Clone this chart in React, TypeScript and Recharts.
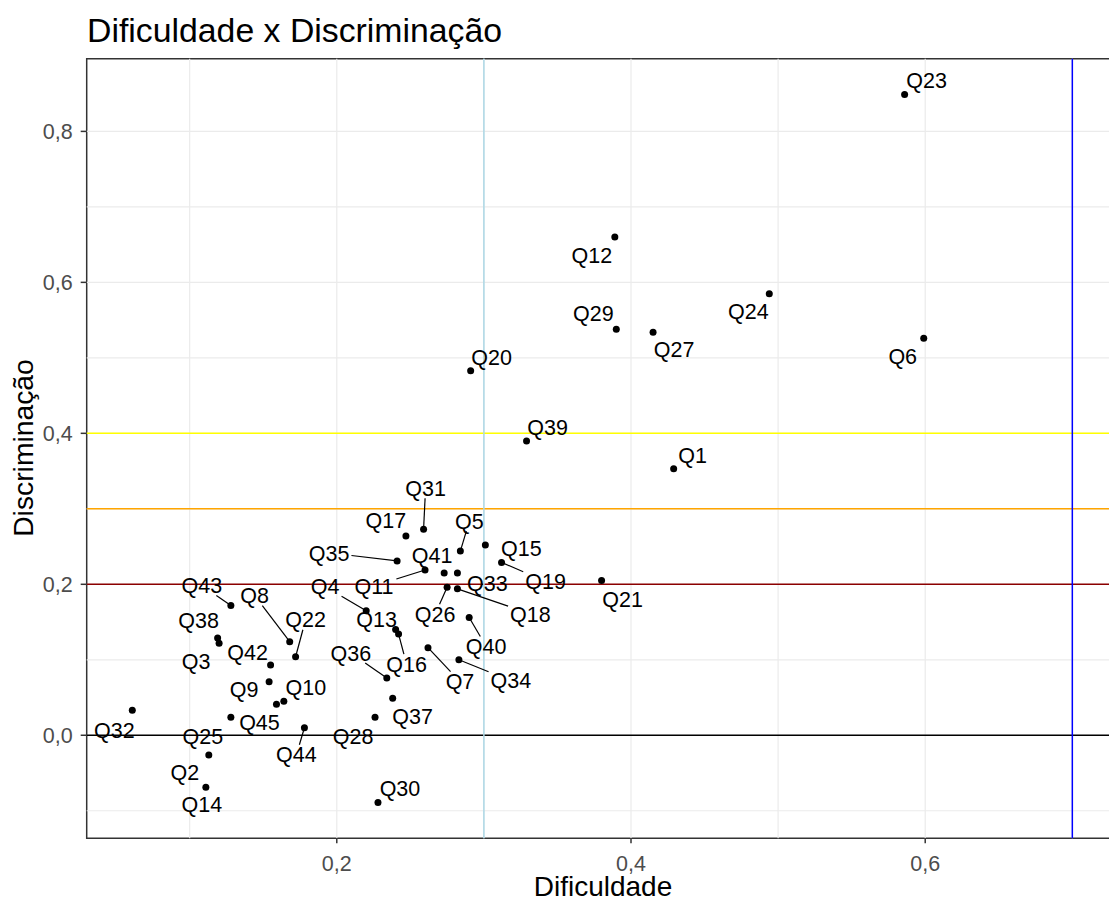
import React from "react";
import {
    ScatterChart,
    Scatter,
    XAxis,
    YAxis,
    ReferenceLine,
    ReferenceArea,
} from "recharts";

const questions = [
    "Q1", "Q2", "Q3", "Q4", "Q5", "Q6", "Q7", "Q8", "Q9", "Q10",
    "Q11", "Q12", "Q13", "Q14", "Q15", "Q16", "Q17", "Q18", "Q19", "Q20",
    "Q21", "Q22", "Q23", "Q24", "Q25", "Q26", "Q27", "Q28", "Q29", "Q30",
    "Q31", "Q32", "Q33", "Q34", "Q35", "Q36", "Q37", "Q38", "Q39", "Q40",
    "Q41", "Q42", "Q43", "Q44", "Q45",
];

const dificuldade = [
    0.429, 0.113, 0.120, 0.220, 0.284, 0.599, 0.262, 0.168, 0.154, 0.164,
    0.260, 0.389, 0.240, 0.111, 0.301, 0.242, 0.247, 0.282, 0.312, 0.291,
    0.380, 0.172, 0.586, 0.494, 0.128, 0.275, 0.415, 0.226, 0.390, 0.228,
    0.259, 0.061, 0.282, 0.283, 0.241, 0.234, 0.238, 0.119, 0.329, 0.290,
    0.273, 0.155, 0.128, 0.178, 0.159,
];

const discriminacao = [
    0.353, -0.026, 0.122, 0.165, 0.244, 0.526, 0.116, 0.124, 0.071, 0.045,
    0.219, 0.660, 0.140, -0.069, 0.252, 0.134, 0.264, 0.194, 0.229, 0.483,
    0.205, 0.104, 0.849, 0.585, 0.024, 0.196, 0.534, 0.024, 0.538, -0.089,
    0.273, 0.033, 0.215, 0.100, 0.231, 0.076, 0.049, 0.129, 0.390, 0.156,
    0.215, 0.093, 0.172, 0.010, 0.041,
];

const xTicks = [0.2, 0.4, 0.6];
const yTicks = [0, 0.2, 0.4, 0.6, 0.8];
const xMinor = [0.1, 0.3, 0.5, 0.7];
const yMinor = [-0.1, 0.1, 0.3, 0.5, 0.7];

// cut-off lines
const hCuts = [0, 0.2, 0.3, 0.4];
const hCutColors = ["#000000", "#8B0000", "#FFA500", "#FFFF00"];
const vCuts = [0.3, 0.7];
const vCutColors = ["#ADD8E6", "#0000FF"];

// repelled label placement, pixel offset from the point to the label centre
const labelOffsets: Record<string, [number, number]> = {
    Q1: [19, -14], Q2: [-24, 17], Q3: [-23, 18], Q4: [-41, -24], Q5: [9, -30],
    Q6: [-21, 18], Q7: [32, 34], Q8: [-35, -46], Q9: [-25, 8], Q10: [22, -14],
    Q11: [-51, 16], Q12: [-23, 18], Q13: [-19, -10], Q14: [-4, 17], Q15: [36, 3],
    Q16: [8, 30], Q17: [-20, -16], Q18: [73, 25], Q19: [44, 19], Q20: [21, -13],
    Q21: [21, 19], Q22: [10, -37], Q23: [22, -14], Q24: [-21, 18], Q25: [-28, 19],
    Q26: [-12, 27], Q27: [21, 17], Q28: [-22, 19], Q29: [-23, -16], Q30: [22, -14],
    Q31: [2, -41], Q32: [-18, 20], Q33: [30, 10], Q34: [52, 21], Q35: [-68, -8],
    Q36: [-36, -25], Q37: [20, 18], Q38: [-19, -18], Q39: [21, -14], Q40: [17, 29],
    Q41: [-12, -18], Q42: [-23, -13], Q43: [-29, -20], Q44: [-8, 27], Q45: [-17, 18],
};
const withSegment = new Set([
    "Q4", "Q5", "Q7", "Q8", "Q11", "Q16", "Q18", "Q19", "Q22", "Q26",
    "Q31", "Q34", "Q35", "Q36", "Q40", "Q43", "Q44",
]);

const data = questions.map((q, i) => ({
    q,
    x: dificuldade[i],
    y: discriminacao[i],
}));

const X_DOMAIN: [number, number] = [0.03, 0.732];
const Y_DOMAIN: [number, number] = [-0.1365, 0.8963];
const FONT = "'Liberation Sans', Arial, sans-serif";
const LABEL_SIZE = 21.5;

const fmt = (v: number) => v.toFixed(1).replace(".", ",");

const textWidth = (s: string) => LABEL_SIZE * (0.778 + 0.556 * (s.length - 1));

const Dot = (props: any) => {
    const { cx, cy } = props;
    if (cx == null || cy == null) return null;
    return <circle cx={cx} cy={cy} r={3.5} fill="#000" />;
};

const RepelLabel = (props: any) => {
    const { cx, cy, payload } = props;
    if (cx == null || cy == null) return null;
    const [dx, dy] = labelOffsets[payload.q] || [15, -12];
    const lx = cx + dx;
    const ly = cy + dy;
    let seg = null;
    if (withSegment.has(payload.q)) {
        const hw = textWidth(payload.q) / 2 + 2;
        const hh = 10;
        const vx = cx - lx;
        const vy = cy - ly;
        const t = Math.min(
            hw / Math.max(Math.abs(vx), 1e-6),
            hh / Math.max(Math.abs(vy), 1e-6)
        );
        seg = (
            <line
                x1={lx + vx * t}
                y1={ly + vy * t}
                x2={cx}
                y2={cy}
                stroke="#000"
                strokeWidth={1.2}
            />
        );
    }
    return (
        <g>
            {seg}
            <text
                x={lx}
                y={ly + 7.7}
                textAnchor="middle"
                fontSize={LABEL_SIZE}
                fontFamily={FONT}
                fill="#000"
            >
                {payload.q}
            </text>
        </g>
    );
};

const App: React.FC = () => {
    return (
        <div
            style={{
                position: "fixed",
                left: 0,
                top: 0,
                width: 1109,
                height: 903,
                overflow: "hidden",
                background: "#fff",
                fontFamily: FONT,
            }}
        >
            <ScatterChart
                width={1130}
                height={903}
                margin={{ top: 58.7, right: 10.6, bottom: 24.7, left: 0 }}
            >
                <XAxis
                    type="number"
                    dataKey="x"
                    domain={X_DOMAIN}
                    allowDataOverflow
                    ticks={xTicks}
                    interval={0}
                    tickFormatter={fmt}
                    axisLine={false}
                    tickLine={{ stroke: "#333333", strokeWidth: 1.5 }}
                    tickSize={5}
                    tickMargin={12}
                    tick={{ fill: "#4D4D4D", fontSize: 21.5 }}
                    height={40}
                />
                <YAxis
                    type="number"
                    dataKey="y"
                    domain={Y_DOMAIN}
                    allowDataOverflow
                    ticks={yTicks}
                    interval={0}
                    tickFormatter={fmt}
                    axisLine={false}
                    tickLine={{ stroke: "#333333", strokeWidth: 1.5 }}
                    tickSize={6}
                    tickMargin={8}
                    tick={{ fill: "#4D4D4D", fontSize: 21.5 }}
                    width={86.7}
                />
                {[...yTicks, ...yMinor].map((v) => (
                    <ReferenceLine key={"gy" + v} y={v} stroke="#EBEBEB" strokeWidth={1.2} />
                ))}
                {[...xTicks, ...xMinor].map((v) => (
                    <ReferenceLine key={"gx" + v} x={v} stroke="#EBEBEB" strokeWidth={1.2} />
                ))}
                {hCuts.map((v, i) => (
                    <ReferenceLine key={"h" + v} y={v} stroke={hCutColors[i]} strokeWidth={1.5} />
                ))}
                {vCuts.map((v, i) => (
                    <ReferenceLine key={"v" + v} x={v} stroke={vCutColors[i]} strokeWidth={1.5} />
                ))}
                <ReferenceArea
                    x1={X_DOMAIN[0]}
                    x2={X_DOMAIN[1]}
                    y1={Y_DOMAIN[0]}
                    y2={Y_DOMAIN[1]}
                    fill="none"
                    fillOpacity={0}
                    stroke="#333333"
                    strokeWidth={1.5}
                />
                <Scatter data={data} shape={Dot} isAnimationActive={false} />
                <Scatter data={data} shape={RepelLabel} isAnimationActive={false} />
            </ScatterChart>
            <svg
                width={1109}
                height={903}
                style={{ position: "absolute", left: 0, top: 0, pointerEvents: "none" }}
            >
                <text x={87} y={42} fontSize={33.8} fontFamily={FONT} fill="#000">
                    Dificuldade x Discriminação
                </text>
                <text
                    x={603}
                    y={896}
                    fontSize={28}
                    fontFamily={FONT}
                    fill="#000"
                    textAnchor="middle"
                >
                    Dificuldade
                </text>
                <text
                    x={32.5}
                    y={448}
                    fontSize={28.3}
                    fontFamily={FONT}
                    fill="#000"
                    textAnchor="middle"
                    transform="rotate(-90 32.5 448)"
                >
                    Discriminação
                </text>
            </svg>
        </div>
    );
};

export default App;
